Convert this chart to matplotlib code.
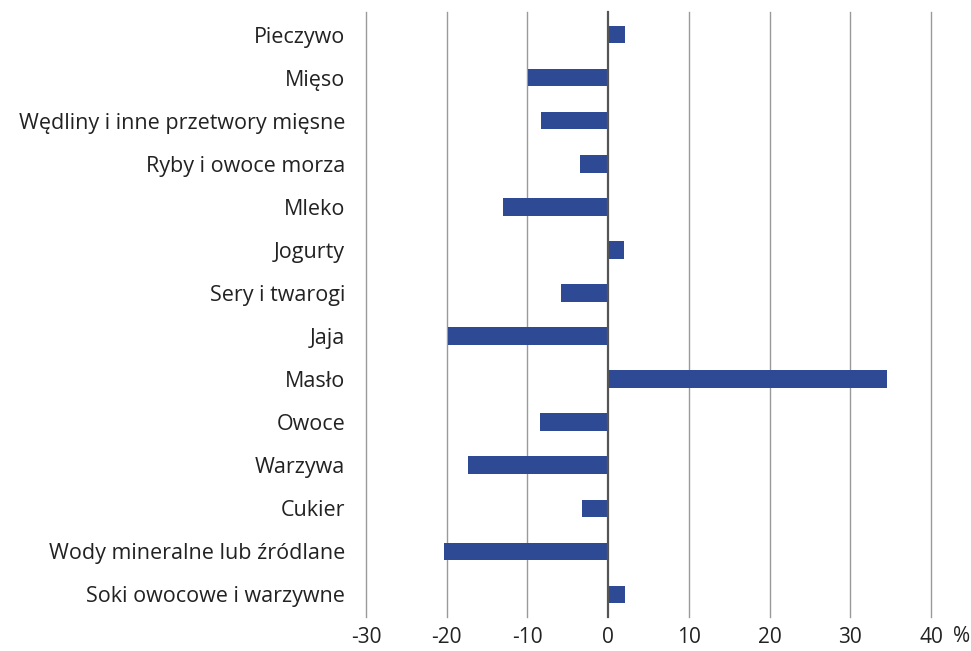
import matplotlib.pyplot as plt

plt.rcParams['font.family'] = ['Open Sans', 'DejaVu Sans']

kategorie = ["Pieczywo", "Mięso", "Wędliny i inne przetwory mięsne",
             "Ryby i owoce morza", "Mleko", "Jogurty", "Sery i twarogi",
             "Jaja", "Masło", "Owoce", "Warzywa", "Cukier",
             "Wody mineralne lub źródlane", "Soki owocowe i warzywne"]
zmiana = [2.1, -9.9, -8.3, -3.5, -13.0, 2.0, -5.8, -19.9, 34.6, -8.5,
          -17.4, -3.2, -20.3, 2.1]
ticks_x = [-30, -20, -10, 0, 10, 20, 30, 40]

fig = plt.figure(figsize=(9.71, 6.51), dpi=100)
ax = fig.add_axes([366/971, 1 - 617/651, (931-366)/971, (617-12)/651])

pos = list(range(len(kategorie)))
ax.barh(pos, zmiana, height=0.4, color="#2F4A94", zorder=3)

ax.set_xlim(-30, 40)
ax.set_ylim(len(kategorie) - 0.47, -0.53)
ax.set_xticks(ticks_x)
ax.set_xticklabels([str(t) for t in ticks_x], fontsize=15)
ax.set_yticks(pos)
ax.set_yticklabels(kategorie, fontsize=15.5)
ax.tick_params(axis='both', length=0, colors="#222222")
ax.tick_params(axis='x', pad=7)
ax.tick_params(axis='y', pad=15)

for t in ticks_x:
    if t == 0:
        ax.axvline(t, color="#555555", linewidth=1.6, zorder=4, clip_on=False)
    else:
        ax.axvline(t, color="#9a9a9a", linewidth=1.0, zorder=1, clip_on=False)

for s in ax.spines.values():
    s.set_visible(False)

fig.text(962/971, 1 - 637/651, "%", fontsize=15, ha='center', va='center', color="#222222")

plt.savefig("out.png")
